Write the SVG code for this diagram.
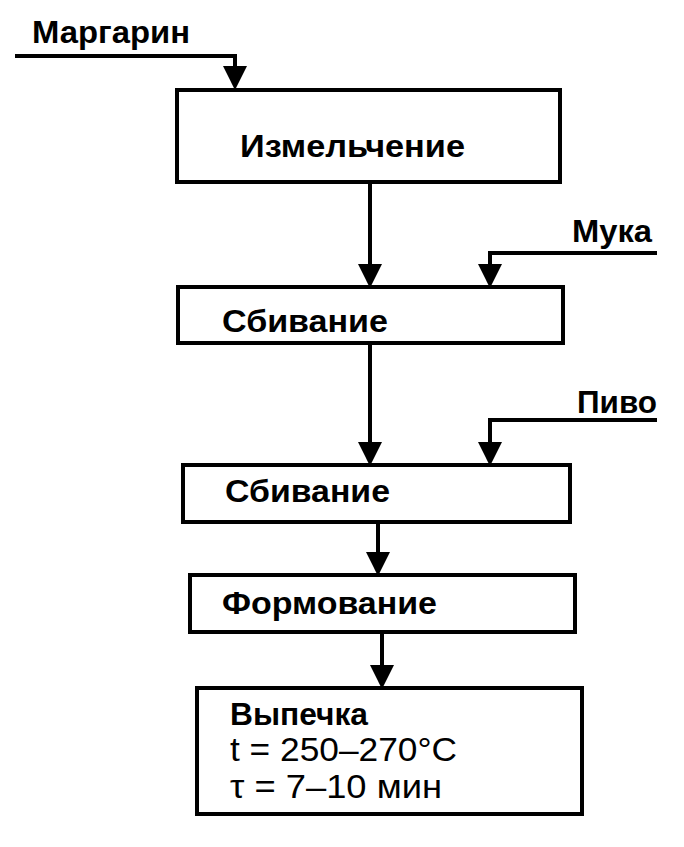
<svg xmlns="http://www.w3.org/2000/svg" width="684" height="847" viewBox="0 0 684 847">
  <defs>
    <marker id="ah" markerUnits="userSpaceOnUse" markerWidth="24" markerHeight="24" viewBox="0 0 22 22" refX="10" refY="11" orient="auto">
      <path d="M0,0 L22,11 L0,22 Z" fill="#000"/>
    </marker>
    <style>
      .box { fill: #fff; stroke: #000; stroke-width: 4; }
      .con { fill: none; stroke: #000; stroke-width: 4; marker-end: url(#ah); }
      text { font-family: "Liberation Sans", Arial, sans-serif; font-weight: bold; font-size: 31px; fill: #000; }
      .thin { font-weight: normal; font-size: 33px; }
    </style>
  </defs>
  <rect width="684" height="847" fill="#fff"/>

  <g id="connectors">
    <polyline class="con" points="15,56 235,56 235,77"/>
    <line class="con" x1="370" y1="182" x2="370" y2="275"/>
    <polyline class="con" points="657,253 490,253 490,275"/>
    <line class="con" x1="370" y1="343" x2="370" y2="453"/>
    <polyline class="con" points="657,420 490,420 490,453"/>
    <line class="con" x1="378" y1="522" x2="378" y2="563"/>
    <line class="con" x1="382" y1="632" x2="382" y2="676"/>
  </g>

  <g id="label-margarin"><text x="32" y="43" textLength="158" lengthAdjust="spacingAndGlyphs">Маргарин</text></g>
  <g id="label-muka"><text x="572" y="242" textLength="80" lengthAdjust="spacingAndGlyphs">Мука</text></g>
  <g id="label-pivo"><text x="577" y="413" textLength="80" lengthAdjust="spacingAndGlyphs">Пиво</text></g>

  <g id="node-izmelchenie">
    <rect class="box" x="177" y="90" width="383" height="92"/>
    <text x="240" y="157" textLength="225" lengthAdjust="spacingAndGlyphs">Измельчение</text>
  </g>
  <g id="node-sbivanie1">
    <rect class="box" x="178" y="287" width="385" height="56"/>
    <text x="222" y="332" textLength="166" lengthAdjust="spacingAndGlyphs">Сбивание</text>
  </g>
  <g id="node-sbivanie2">
    <rect class="box" x="183" y="465" width="387" height="57"/>
    <text x="225" y="502" textLength="165" lengthAdjust="spacingAndGlyphs">Сбивание</text>
  </g>
  <g id="node-formovanie">
    <rect class="box" x="190" y="575" width="385" height="57"/>
    <text x="222" y="614" textLength="215" lengthAdjust="spacingAndGlyphs">Формование</text>
  </g>
  <g id="node-vypechka">
    <rect class="box" x="197" y="688" width="385" height="126"/>
    <text x="230" y="725" textLength="138" lengthAdjust="spacingAndGlyphs">Выпечка</text>
    <text class="thin" x="230" y="761" textLength="227" lengthAdjust="spacingAndGlyphs">t = 250–270°C</text>
    <text class="thin" x="230" y="798" textLength="212" lengthAdjust="spacingAndGlyphs">τ = 7–10 мин</text>
  </g>
</svg>
